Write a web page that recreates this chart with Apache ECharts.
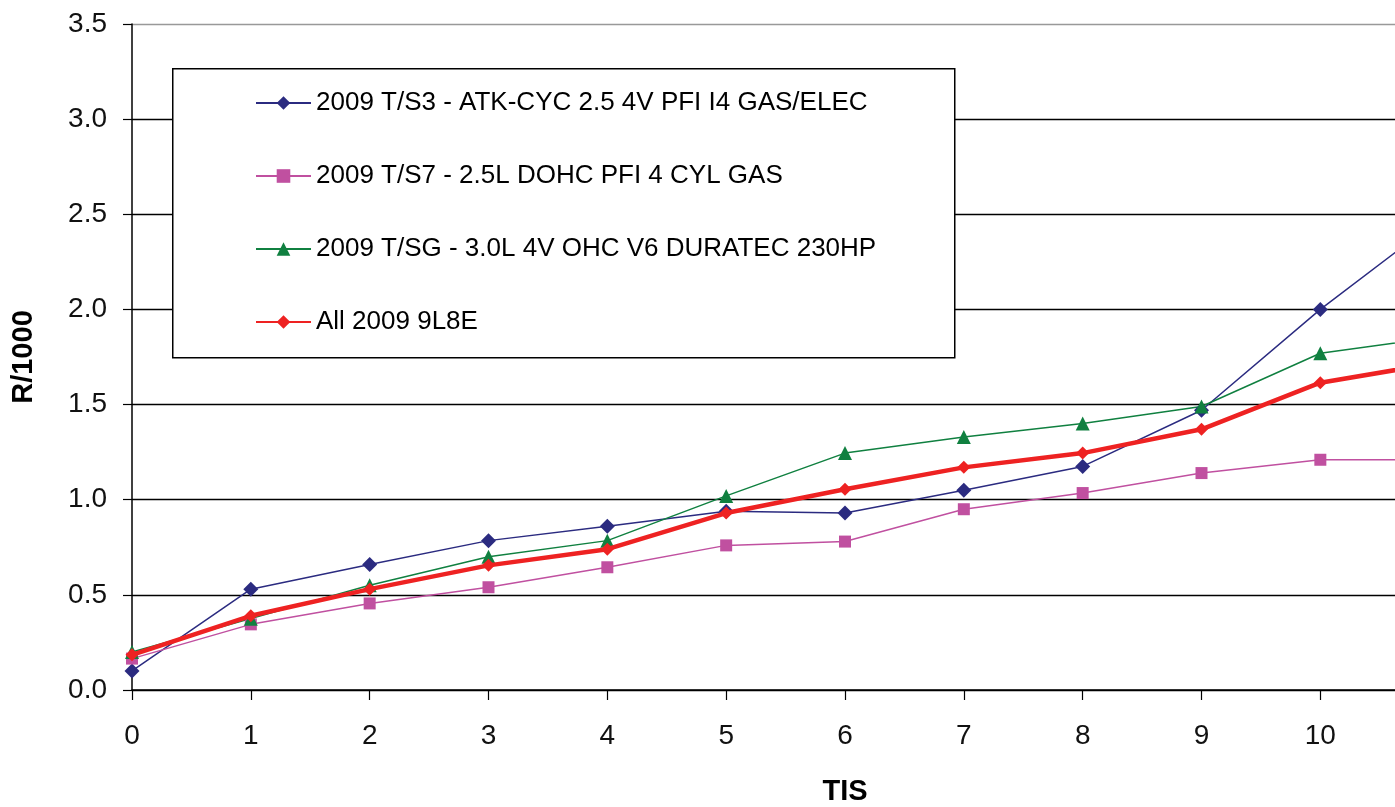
<!DOCTYPE html>
<html>
<head>
<meta charset="utf-8">
<script src="https://cdn.jsdelivr.net/npm/echarts@6/dist/echarts.min.js"></script>
<style>
html,body{margin:0;padding:0;background:#fff;overflow:hidden;}
#chart{width:1395px;height:807px;}
</style>
</head>
<body>
<div id="chart"></div>
<script>
const tisValues = [0, 1, 2, 3, 4, 5, 6, 7, 8, 9, 10, 11];
const seriesNames = [
  '2009 T/S3 - ATK-CYC 2.5 4V PFI I4 GAS/ELEC',
  '2009 T/S7 - 2.5L DOHC PFI 4 CYL GAS',
  '2009 T/SG - 3.0L 4V OHC V6 DURATEC 230HP',
  'All 2009 9L8E'
];
const ts3Values = [0.10, 0.53, 0.66, 0.785, 0.86, 0.94, 0.93, 1.05, 1.175, 1.47, 2.00, 2.475];
const ts7Values = [0.165, 0.345, 0.455, 0.54, 0.645, 0.76, 0.78, 0.95, 1.035, 1.14, 1.21, 1.21];
const tsgValues = [0.20, 0.375, 0.55, 0.70, 0.785, 1.02, 1.245, 1.33, 1.40, 1.49, 1.77, 1.855];
const allValues = [0.185, 0.39, 0.53, 0.655, 0.74, 0.93, 1.055, 1.17, 1.245, 1.37, 1.615, 1.72];

const FONT = "'Liberation Sans', Arial, sans-serif";
const pairs = vals => tisValues.map((x, i) => [x, vals[i]]);

const chart = echarts.init(document.getElementById('chart'), null, {renderer: 'canvas'});
chart.setOption({
  animation: false,
  backgroundColor: '#ffffff',
  grid: {left: 132, top: 24, width: 1426, bottom: 117, containLabel: false, outerBoundsMode: 'none'},
  xAxis: {
    type: 'value', min: 0, max: 12, interval: 1,
    name: 'TIS', nameLocation: 'middle', nameGap: 87,
    nameTextStyle: {fontFamily: FONT, fontSize: 29, fontWeight: 'bold', color: '#000'},
    axisLine: {show: true, lineStyle: {color: '#000', width: 1.5}},
    axisTick: {show: true, inside: false, length: 10, lineStyle: {color: '#000', width: 1.2}},
    axisLabel: {fontFamily: FONT, fontSize: 28, color: '#111', margin: 32},
    splitLine: {show: false}
  },
  yAxis: {
    type: 'value', min: 0, max: 3.5, interval: 0.5,
    name: 'R/1000', nameLocation: 'middle', nameGap: 94, nameRotate: 90,
    nameTextStyle: {fontFamily: FONT, fontSize: 29, fontWeight: 'bold', color: '#000'},
    axisLine: {show: true, lineStyle: {color: '#000', width: 1.5}},
    axisTick: {show: true, inside: false, length: 9, lineStyle: {color: '#000', width: 1.2}},
    axisLabel: {fontFamily: FONT, fontSize: 28, color: '#111', margin: 25,
      formatter: v => v.toFixed(1)},
    splitLine: {show: true, lineStyle: {color: ['#000','#000','#000','#000','#000','#000','#000','#999'], width: 1.4}}
  },
  legend: {
    orient: 'vertical', left: 255, top: 88, padding: 0,
    itemGap: 43, itemWidth: 55, itemHeight: 17,
    textStyle: {fontFamily: FONT, fontSize: 26, color: '#000', lineHeight: 30},
    data: seriesNames, z: 10
  },
  graphic: [{
    type: 'rect', left: 172, top: 68, z: 5,
    shape: {width: 782, height: 289},
    style: {fill: '#fff', stroke: '#000', lineWidth: 1.5}
  }],
  series: [
    {name: seriesNames[0], type: 'line', data: pairs(ts3Values), color: '#2b2b80',
     symbol: 'diamond', symbolSize: 15, lineStyle: {width: 1.5, color: '#2b2b80'},
     itemStyle: {color: '#2b2b80'}, z: 3},
    {name: seriesNames[1], type: 'line', data: pairs(ts7Values), color: '#c050a0',
     symbol: 'rect', symbolSize: 12, lineStyle: {width: 1.5, color: '#c050a0'},
     itemStyle: {color: '#c050a0'}, z: 3},
    {name: seriesNames[2], type: 'line', data: pairs(tsgValues), color: '#108040',
     symbol: 'triangle', symbolSize: 14, lineStyle: {width: 1.5, color: '#108040'},
     itemStyle: {color: '#108040'}, z: 3},
    {name: seriesNames[3], type: 'line', data: pairs(allValues), color: '#ee2222',
     symbol: 'diamond', symbolSize: 13, lineStyle: {width: 4.5, color: '#ee2222'},
     itemStyle: {color: '#ee2222'}, z: 4}
  ]
});
</script>
</body>
</html>
